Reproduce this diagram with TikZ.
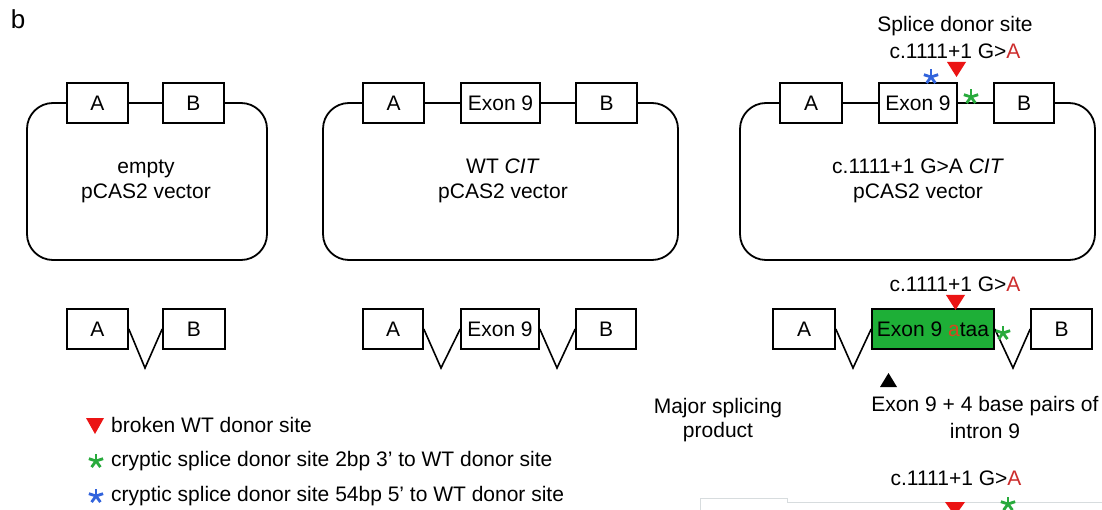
\documentclass[tikz,border=0pt]{standalone}
\usepackage{fontspec}
\setmainfont{Liberation Sans}
\definecolor{mred}{RGB}{235,20,20}
\definecolor{tred}{RGB}{205,45,45}
\definecolor{sgreen}{RGB}{40,170,60}
\definecolor{sblue}{RGB}{50,100,220}
\definecolor{boxgreen}{RGB}{30,175,55}
\definecolor{aorange}{RGB}{215,70,30}
\definecolor{faint}{RGB}{215,220,222}
\newcommand\astk[3]{\foreach \ang in {90,162,234,306,18} {\draw[#3, line width=2.8pt] (#1,#2) -- ++(\ang:7.5pt);}}
\tikzset{
  lbl/.style={font=\fontsize{21}{25}\selectfont, inner sep=0pt, align=center},
  seg/.style={draw, line width=1.6pt, fill=white, minimum height=40pt, inner sep=0pt, font=\fontsize{21}{25}\selectfont},
  vec/.style={draw, line width=1.8pt, rounded corners=26pt},
  tri/.style={fill=mred},
  conn/.style={line width=1.6pt}
}
\begin{document}
\begin{tikzpicture}[x=1pt,y=-1pt]
\useasboundingbox[fill=white] (0,0) rectangle (1102,510);
\node[font=\fontsize{26}{30}\selectfont, inner sep=0pt] (lb) at (18,19) {b};

% ---- top row: vectors
\draw[vec] (27,103) rectangle (267,260);
\draw[vec] (323,103) rectangle (678,260);
\draw[vec] (740,103) rectangle (1095,260);

\node[seg, minimum width=61pt] (t1a) at (97.5,103) {A};
\node[seg, minimum width=61pt] (t1b) at (193.5,103) {B};
\node[lbl] (t1l) at (146,181) {empty\\pCAS2 vector};

\node[seg, minimum width=61pt] (t2a) at (393.5,103) {A};
\node[seg, minimum width=79pt] (t2e) at (500.5,103) {Exon 9};
\node[seg, minimum width=61pt] (t2b) at (606.5,103) {B};
\node[lbl] (t2l) at (503,181) {WT \textit{CIT}\\pCAS2 vector};

\node[seg, minimum width=62pt] (t3a) at (811,103) {A};
\node[seg, minimum width=78pt] (t3e) at (918,103) {Exon 9};
\node[seg, minimum width=60pt] (t3b) at (1024,103) {B};
\node[lbl] (t3l) at (918,181) {c.1111+1 G>A \textit{CIT}\\pCAS2 vector};

\node[lbl, font=\fontsize{21}{27}\selectfont] (sds) at (955,37) {Splice donor site\\c.1111+1 G>\textcolor{tred}{A}};
\fill[tri] (947,62) -- (966,62) -- (956.5,77) -- cycle;
\astk{931}{77}{sblue}
\astk{971}{97}{sgreen}

% ---- second row: splicing products
\node[seg, minimum width=61pt] (b1a) at (97.5,329) {A};
\node[seg, minimum width=62pt] (b1b) at (194,329) {B};
\coordinate (v1) at (145,368);
\draw[conn] (b1a.east) -- (v1) -- (b1b.west);

\node[seg, minimum width=60pt] (b2a) at (393,329) {A};
\node[seg, minimum width=78pt] (b2e) at (500,329) {Exon 9};
\node[seg, minimum width=60pt] (b2b) at (606,329) {B};
\coordinate (v2) at (441,368);
\coordinate (v3) at (557,368);
\draw[conn] (b2a.east) -- (v2) -- (b2e.west);
\draw[conn] (b2e.east) -- (v3) -- (b2b.west);

\node[seg, minimum width=62pt] (b3a) at (804,329) {A};
\node[seg, minimum width=122pt, fill=boxgreen] (b3g) at (933,329) {Exon 9 \textcolor{aorange}{a}taa};
\node[seg, minimum width=61pt] (b3b) at (1061.5,329) {B};
\coordinate (v4) at (853,368);
\coordinate (v5) at (1013,368);
\draw[conn] (b3a.east) -- (v4) -- (b3g.west);
\draw[conn] (b3g.east) -- (v5) -- (b3b.west);
\node[lbl] (m2) at (955,284) {c.1111+1 G>\textcolor{tred}{A}};
\fill[tri] (946,295) -- (965,295) -- (955.5,310) -- cycle;
\astk{1003}{333}{sgreen}

\fill[black] (880,387) -- (897,387) -- (888.5,373) -- cycle;
\node[lbl, font=\fontsize{21}{24}\selectfont] (msp) at (718,420) {Major splicing\\product};
\node[lbl, font=\fontsize{21}{27}\selectfont] (e4) at (985,417) {Exon 9 + 4 base pairs of\\intron 9};

% ---- legend
\fill[tri] (86,418) -- (104,418) -- (95,434) -- cycle;
\node[lbl, anchor=west] (lg1) at (111,425) {broken WT donor site};
\astk{96}{461}{sgreen}
\node[lbl, anchor=west] (lg2) at (111,461) {cryptic splice donor site 2bp 3’ to WT donor site};
\astk{96}{496}{sblue}
\node[lbl, anchor=west] (lg3) at (111,496) {cryptic splice donor site 54bp 5’ to WT donor site};

% ---- bottom (cut off) panel
\draw[faint, line width=1pt] (700,512) -- (700,498) -- (787,498) -- (787,502) -- (1104,502);
\node[lbl] (m3) at (956,478) {c.1111+1 G>\textcolor{tred}{A}};
\fill[tri] (945,502) -- (965,502) -- (955,516) -- cycle;
\astk{1008}{504}{sgreen}
\end{tikzpicture}
\end{document}
